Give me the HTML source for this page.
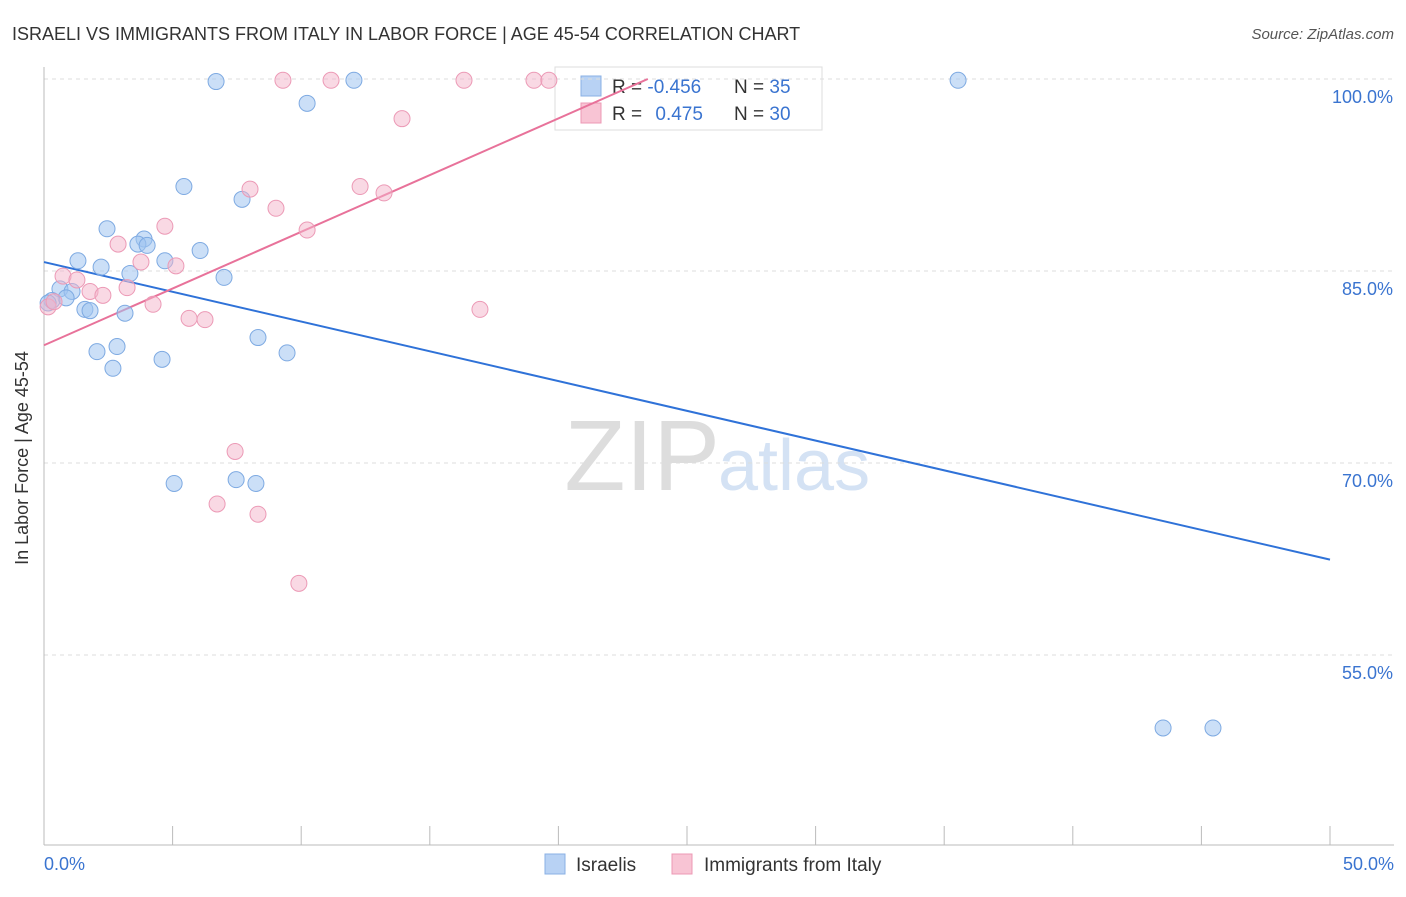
<!DOCTYPE html>
<html><head><meta charset="utf-8"><style>
body{margin:0;background:#fff;font-family:"Liberation Sans",sans-serif;}
svg text{font-family:"Liberation Sans",sans-serif;}
</style></head><body>
<svg id="c" width="1406" height="892" xmlns="http://www.w3.org/2000/svg">
<text x="12" y="40" font-size="18" fill="#333">ISRAELI VS IMMIGRANTS FROM ITALY IN LABOR FORCE | AGE 45-54 CORRELATION CHART</text>
<text x="1394" y="39" font-size="15" fill="#555" font-style="italic" text-anchor="end">Source: ZipAtlas.com</text>
<text x="720" y="490" font-size="100" fill="#ddd" text-anchor="end" font-family="Liberation Serif">ZIP</text>
<text x="718" y="490" font-size="72" fill="#d4e2f4">atlas</text>
<g>
<rect x="555" y="67" width="267" height="63" fill="#fff" stroke="#ddd"/>
<rect x="581" y="76" width="20" height="20" fill="#b8d2f4" stroke="#8ab0e4"/>
<rect x="581" y="103" width="20" height="20" fill="#f8c4d4" stroke="#ec98b4"/>
<text x="612" y="93" font-size="19" fill="#333">R = <tspan fill="#3a74d0">-0.456</tspan></text>
<text x="734" y="93" font-size="19" fill="#333">N = <tspan fill="#3a74d0">35</tspan></text>
<text x="612" y="120" font-size="19" fill="#333">R = <tspan fill="#3a74d0" dx="8">0.475</tspan></text>
<text x="734" y="120" font-size="19" fill="#333">N = <tspan fill="#3a74d0">30</tspan></text>
</g>
<g id="grid"></g><g id="axes"></g><g id="lines"></g><g id="pts"></g>
<text x="28" y="458" font-size="18" fill="#333" text-anchor="middle" transform="rotate(-90 28 458)">In Labor Force | Age 45-54</text>
<text x="44" y="870" font-size="18" fill="#3a74d0">0.0%</text>
<text x="1394" y="870" font-size="18" fill="#3a74d0" text-anchor="end">50.0%</text>
<g>
<rect x="545" y="854" width="20" height="20" fill="#b8d2f4" stroke="#8ab0e4"/>
<text x="576" y="871" font-size="19" fill="#333">Israelis</text>
<rect x="672" y="854" width="20" height="20" fill="#f8c4d4" stroke="#ec98b4"/>
<text x="704" y="871" font-size="19" fill="#333">Immigrants from Italy</text>
</g>
</svg>
<script>
const yTicks=[100,85,70,55];
const yTickLabels=["100.0%","85.0%","70.0%","55.0%"];
const xTicks=[0,5,10,15,20,25,30,35,40,45,50];
const blueX=[6.69,12.05,35.54,10.23,5.44,7.70,2.45,3.89,3.65,4.01,1.32,4.70,6.07,2.22,3.34,7.00,0.62,1.09,0.86,0.31,0.16,1.59,1.79,3.15,8.32,2.06,2.84,9.45,2.68,4.59,5.06,7.47,8.24,43.51,45.45];
const blueY=[99.8,99.9,99.9,98.1,91.6,90.6,88.3,87.5,87.1,87.0,85.8,85.8,86.6,85.3,84.8,84.5,83.6,83.4,82.9,82.7,82.5,82.0,81.9,81.7,79.8,78.7,79.1,78.6,77.4,78.1,68.4,68.7,68.4,49.3,49.3];
const pinkX=[9.29,11.16,16.33,19.05,19.63,13.92,8.01,12.29,13.22,9.02,4.70,10.23,2.88,3.77,5.13,0.74,1.28,1.79,2.29,3.23,4.24,5.64,6.26,0.16,0.39,16.95,7.43,6.73,8.32,9.91];
const pinkY=[99.9,99.9,99.9,99.9,99.9,96.9,91.4,91.6,91.1,89.9,88.5,88.2,87.1,85.7,85.4,84.6,84.3,83.4,83.1,83.7,82.4,81.3,81.2,82.2,82.6,82.0,70.9,66.8,66.0,60.6];
const blueLine=[85.7,-0.465];
const pinkLine=[79.2,0.886];
const X=v=>44+v*25.72, Y=v=>79+(100-v)*12.8;
const NS="http://www.w3.org/2000/svg";
function mk(p,t,a){const e=document.createElementNS(NS,t);for(const k in a)e.setAttribute(k,a[k]);document.getElementById(p).appendChild(e);return e;}
yTicks.forEach((t,i)=>{
 const l=mk('grid','line',{x1:44,x2:1394,y1:Y(t),y2:Y(t),stroke:'#ddd','stroke-dasharray':'4 4'});
 
 
 const tx=mk('grid','text',{x:1393,y:Y(t)+24,'font-size':18,fill:'#3a74d0','text-anchor':'end'});
 tx.textContent=yTickLabels[i];
 
 
});
let a=mk('axes','line',{x1:44,x2:44,y1:67,y2:845,stroke:'#bbb'});


a=mk('axes','line',{x1:44,x2:1394,y1:845,y2:845,stroke:'#bbb'});


xTicks.forEach(t=>{const l=mk('axes','line',{x1:X(t),x2:X(t),y1:826,y2:845,stroke:'#bbb'});
 
 });
let bl=mk('lines','line',{x1:X(0),y1:Y(blueLine[0]),x2:X(50),y2:Y(blueLine[0]+blueLine[1]*50),stroke:'#2f72d8','stroke-width':2});


const pEnd=(100-pinkLine[0])/pinkLine[1];
let pl=mk('lines','line',{x1:X(0),y1:Y(pinkLine[0]),x2:X(pEnd),y2:Y(100),stroke:'#e8729a','stroke-width':2});


blueX.forEach((x,i)=>{const c=mk('pts','circle',{cx:X(x),cy:Y(blueY[i]),r:8,fill:'rgba(160,196,240,0.55)',stroke:'#7eaae2','stroke-width':1});
 
 });
pinkX.forEach((x,i)=>{const c=mk('pts','circle',{cx:X(x),cy:Y(pinkY[i]),r:8,fill:'rgba(244,180,202,0.5)',stroke:'#ec9ab6','stroke-width':1});
 
 });
</script>
</body></html>
